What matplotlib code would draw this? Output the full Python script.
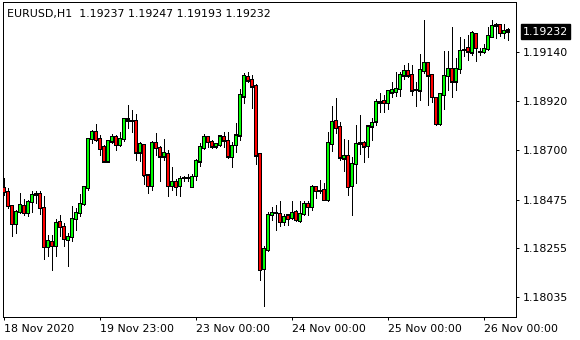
import matplotlib
matplotlib.use('Agg')
import matplotlib.pyplot as plt
from matplotlib.patches import Rectangle

title_text = "EURUSD,H1  1.19237 1.19247 1.19193 1.19232"
last_price = 1.19232

opens = [1.185265, 1.185085, 1.184470, 1.183645, 1.184170, 1.184470, 1.184140, 1.184620, 1.184935, 1.184995,
         1.184365, 1.182595, 1.182850, 1.182640, 1.183735, 1.183510, 1.182940, 1.183060, 1.183870, 1.184140,
         1.184545, 1.185250, 1.187470, 1.187785, 1.187470, 1.187110, 1.186465, 1.187365, 1.187560, 1.187200,
         1.187470, 1.188370, 1.188280, 1.188280, 1.186870, 1.187200, 1.185835, 1.185340, 1.187290, 1.187065,
         1.186690, 1.186795, 1.185340, 1.185535, 1.185340, 1.185715, 1.185715, 1.185310, 1.185790, 1.186465,
         1.187065, 1.187560, 1.187335, 1.187140, 1.187200, 1.187560, 1.187395, 1.186660, 1.187200, 1.187635,
         1.189390, 1.190260, 1.190140, 1.189870, 1.186795, 1.181620, 1.182460, 1.184035, 1.184140, 1.184110,
         1.183720, 1.184035, 1.183900, 1.184200, 1.183765, 1.184110, 1.184560, 1.184395, 1.185325, 1.185145,
         1.185190, 1.184725, 1.187245, 1.188280, 1.188010, 1.186600, 1.186720, 1.185340, 1.186345, 1.187260,
         1.187290, 1.187170, 1.188040, 1.188265, 1.189120, 1.189195, 1.189090, 1.189570, 1.189585, 1.189735,
         1.190335, 1.190545, 1.190365, 1.189690, 1.189660, 1.190545, 1.190920, 1.190365, 1.189315, 1.188145,
         1.189465, 1.190320, 1.190635, 1.190065, 1.190635, 1.191505, 1.191565, 1.191370, 1.192210, 1.191400,
         1.191385, 1.191535, 1.192090, 1.192615, 1.192615, 1.192240, 1.192370]
highs = [1.185715, 1.185265, 1.184500, 1.184290, 1.185040, 1.184770, 1.184740, 1.185145, 1.185145, 1.185115,
         1.184920, 1.183165, 1.183165, 1.183870, 1.184065, 1.183690, 1.183240, 1.184470, 1.184365, 1.185010,
         1.185340, 1.187500, 1.187890, 1.188145, 1.187665, 1.187215, 1.187410, 1.187710, 1.187665, 1.187815,
         1.188400, 1.189015, 1.188790, 1.188610, 1.187320, 1.187260, 1.185850, 1.187395, 1.187740, 1.187140,
         1.187470, 1.186990, 1.186210, 1.185670, 1.185790, 1.185820, 1.185895, 1.185895, 1.186570, 1.187290,
         1.187710, 1.187590, 1.187440, 1.187290, 1.187620, 1.187815, 1.187815, 1.187320, 1.188220, 1.189735,
         1.190440, 1.190485, 1.190365, 1.189960, 1.186810, 1.182640, 1.184170, 1.184395, 1.184515, 1.184665,
         1.184110, 1.184095, 1.184695, 1.184260, 1.184695, 1.184665, 1.184665, 1.185415, 1.185370, 1.185640,
         1.185490, 1.187815, 1.188970, 1.189315, 1.188265, 1.187470, 1.187440, 1.186660, 1.188115, 1.188565,
         1.187395, 1.188070, 1.188415, 1.189285, 1.189540, 1.189465, 1.189690, 1.190065, 1.190515, 1.190515,
         1.190815, 1.190920, 1.190815, 1.190065, 1.191325, 1.192840, 1.190935, 1.190380, 1.189360, 1.189540,
         1.191445, 1.191445, 1.192510, 1.191115, 1.192075, 1.191970, 1.192165, 1.192360, 1.192240, 1.191565,
         1.191760, 1.192540, 1.192840, 1.192690, 1.192660, 1.192660, 1.192470]
lows = [1.184965, 1.184365, 1.183090, 1.183240, 1.184140, 1.184065, 1.184020, 1.184170, 1.184590, 1.184110,
        1.182085, 1.182190, 1.181560, 1.182190, 1.183120, 1.182640, 1.181740, 1.182865, 1.183360, 1.183990,
        1.184515, 1.185190, 1.187290, 1.187365, 1.186735, 1.186435, 1.186435, 1.187290, 1.186960, 1.187140,
        1.187365, 1.187980, 1.187815, 1.186510, 1.186465, 1.185460, 1.185040, 1.185160, 1.186765, 1.185565,
        1.186510, 1.184890, 1.185190, 1.184965, 1.184890, 1.185565, 1.185565, 1.185295, 1.185640, 1.186270,
        1.187020, 1.187110, 1.187065, 1.187065, 1.187170, 1.187110, 1.186615, 1.186195, 1.186870, 1.187440,
        1.189090, 1.190065, 1.188895, 1.186360, 1.181140, 1.179940, 1.182415, 1.183840, 1.183390, 1.183540,
        1.183585, 1.183585, 1.183870, 1.183765, 1.183735, 1.184035, 1.184065, 1.184260, 1.184815, 1.185040,
        1.184710, 1.184695, 1.186915, 1.187740, 1.186540, 1.186015, 1.184935, 1.184035, 1.185490, 1.186810,
        1.186420, 1.186645, 1.187410, 1.188115, 1.188715, 1.188715, 1.188835, 1.189390, 1.189435, 1.189420,
        1.190185, 1.190290, 1.189465, 1.188985, 1.189240, 1.190440, 1.189015, 1.189165, 1.188115, 1.188115,
        1.188835, 1.189690, 1.189390, 1.189690, 1.190440, 1.191235, 1.191040, 1.191265, 1.191010, 1.191265,
        1.191370, 1.191490, 1.192060, 1.192015, 1.192120, 1.192015, 1.191930]
closes = [1.185100, 1.184440, 1.183645, 1.184185, 1.184500, 1.184140, 1.184635, 1.184950, 1.184995, 1.184365,
          1.182595, 1.182880, 1.182640, 1.183690, 1.183510, 1.182970, 1.183060, 1.183870, 1.184140, 1.184545,
          1.185310, 1.187470, 1.187785, 1.187440, 1.187020, 1.186465, 1.187380, 1.187560, 1.187200, 1.187470,
          1.188370, 1.188310, 1.188275, 1.186870, 1.187260, 1.185835, 1.185340, 1.187290, 1.187065, 1.186690,
          1.186840, 1.185340, 1.185535, 1.185295, 1.185685, 1.185710, 1.185720, 1.185760, 1.186495, 1.187110,
          1.187560, 1.187335, 1.187140, 1.187245, 1.187590, 1.187410, 1.186690, 1.187170, 1.187635, 1.189465,
          1.190320, 1.190110, 1.189840, 1.186735, 1.181560, 1.182535, 1.184065, 1.184140, 1.184135, 1.183720,
          1.183975, 1.183855, 1.184155, 1.183810, 1.184110, 1.184560, 1.184395, 1.185325, 1.185115, 1.185140,
          1.184725, 1.187290, 1.188235, 1.187965, 1.186645, 1.186720, 1.185310, 1.186345, 1.187260, 1.187290,
          1.187140, 1.188040, 1.188190, 1.189135, 1.189125, 1.189090, 1.189645, 1.189690, 1.189735, 1.190365,
          1.190545, 1.190335, 1.189660, 1.189685, 1.190590, 1.190920, 1.190335, 1.189360, 1.188145, 1.189495,
          1.190320, 1.190635, 1.190065, 1.190635, 1.191445, 1.191500, 1.191415, 1.192255, 1.191565, 1.191395,
          1.191520, 1.192120, 1.192570, 1.192555, 1.192240, 1.192345, 1.192320]

ytick_values = [1.18035, 1.18255, 1.18475, 1.18700, 1.18920, 1.19140]
xtick_bars = [0, 24, 48, 72, 96, 120]
xtick_labels = ["18 Nov 2020", "19 Nov 23:00", "23 Nov 00:00", "24 Nov 00:00", "25 Nov 00:00", "26 Nov 00:00"]

BULL = '#00ff00'
BEAR = '#ff0000'
FONT = 'DejaVu Sans'
FS = 7.9

W, H = 580, 340
AX_W, AX_H = 513, 314.5
fig = plt.figure(figsize=(W / 100, H / 100), dpi=100)
fig.patch.set_facecolor('white')
ax = fig.add_axes([3 / W, (H - 316.5) / H, AX_W / W, AX_H / H])
ax.set_facecolor('white')

YMIN, YMAX = 1.17948, 1.19365
XMIN = -0.25
ax.set_xlim(XMIN, XMIN + AX_W / 4)
ax.set_ylim(YMIN, YMAX)
ypx = (YMAX - YMIN) / AX_H   # one pixel in price units

px = 0.72  # one pixel in points
for i, (o, h, l, c) in enumerate(zip(opens, highs, lows, closes)):
    ax.vlines(i, l, h, color='black', lw=px, antialiased=False, zorder=1)
    col = BULL if c >= o else BEAR
    lo, hi = min(o, c), max(o, c)
    ax.add_patch(Rectangle((i - 0.35, lo - 0.55 * ypx), 0.7, hi - lo + 1.1 * ypx,
                           facecolor='black', lw=0, antialiased=False, snap=False, zorder=2))
    if hi - lo > 1.5 * ypx:
        ax.add_patch(Rectangle((i - 0.1, lo + 0.6 * ypx), 0.2, hi - lo - 1.2 * ypx,
                               facecolor=col, lw=0, antialiased=False, snap=False, zorder=3))

for s in ax.spines.values():
    s.set_color('black')
    s.set_linewidth(px)

ax.yaxis.tick_right()
ax.set_yticks(ytick_values)
ax.set_yticklabels([f"{v:.5f}" for v in ytick_values], fontsize=FS, family=FONT)
ax.tick_params(axis='y', direction='out', length=3 * px, width=px, pad=3, colors='black')

ax.set_xticks(xtick_bars)
ax.set_xticklabels(xtick_labels, fontsize=FS, family=FONT)
for lbl in ax.get_xticklabels():
    lbl.set_horizontalalignment('left')
ax.tick_params(axis='x', direction='out', length=3 * px, width=px, pad=3, colors='black')

ax.annotate(f"{last_price:.5f}", xy=(1, last_price), xycoords=('axes fraction', 'data'),
            xytext=(7, 0), textcoords='offset pixels', va='center', ha='left',
            color='white', fontsize=FS, family=FONT,
            bbox=dict(boxstyle='square,pad=0.2', fc='black', ec='black'))

fig.text(7 / W, 1 - 17 / H, title_text, fontsize=FS, family=FONT, ha='left', va='baseline', color='black')

fig.savefig('out.png', dpi=100, facecolor='white')
